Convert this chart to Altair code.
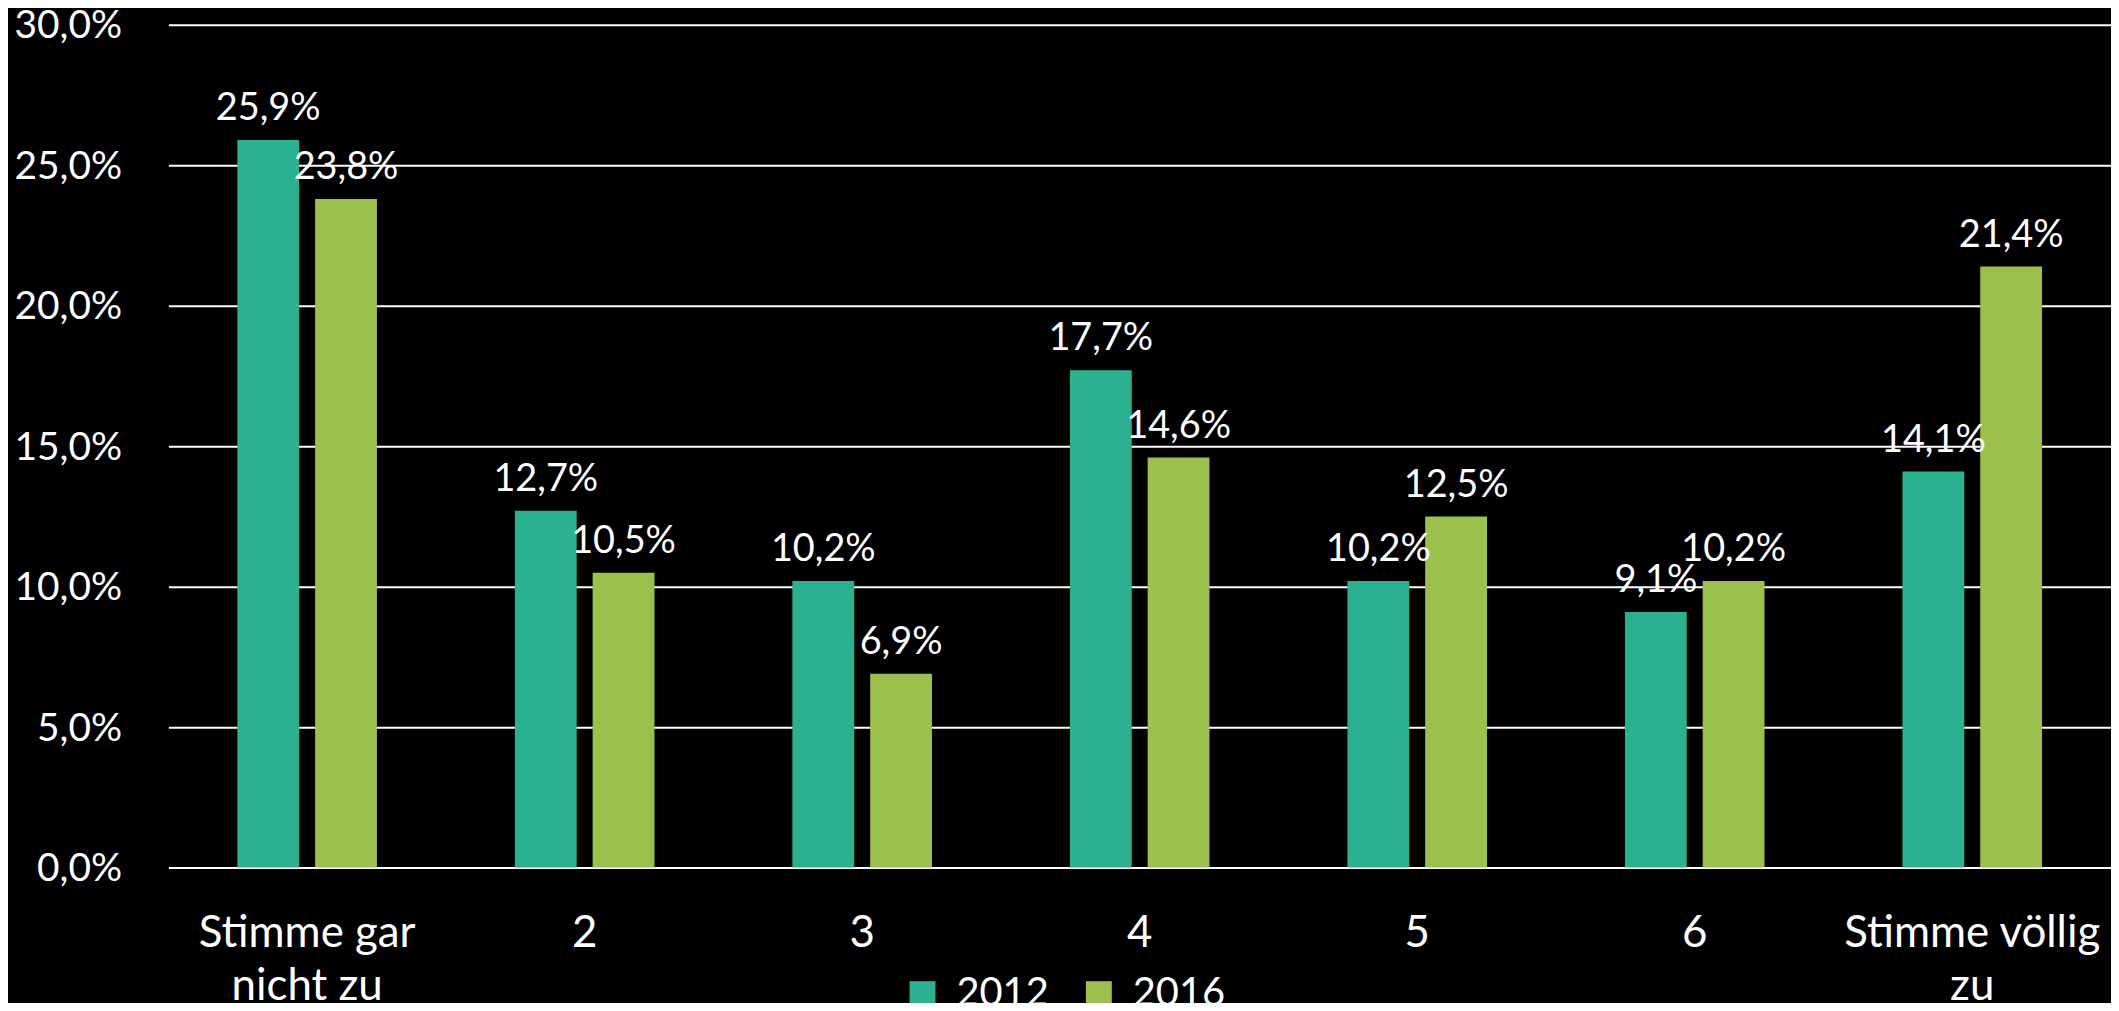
import altair as alt
import pandas as pd

categories = ["Stimme gar nicht zu", "2", "3", "4", "5", "6", "Stimme völlig zu"]
label_lines = {
    "Stimme gar nicht zu": ["Stimme gar", "nicht zu"],
    "Stimme völlig zu": ["Stimme völlig", "zu"],
}
years = ["2012", "2016"]
values_2012 = [25.9, 12.7, 10.2, 17.7, 10.2, 9.1, 14.1]
values_2016 = [23.8, 10.5, 6.9, 14.6, 12.5, 10.2, 21.4]
colors = ["#2BB18F", "#9BC04D"]
y_ticks = [0, 5, 10, 15, 20, 25, 30]

rows = []
for c, a, b in zip(categories, values_2012, values_2016):
    rows.append({"cat": c, "year": years[0], "v": a})
    rows.append({"cat": c, "year": years[1], "v": b})
df = pd.DataFrame(rows)

expr_parts = []
for k, lines in label_lines.items():
    arr = "[" + ", ".join("'" + s + "'" for s in lines) + "]"
    expr_parts.append(f"datum.label == '{k}' ? {arr}")
label_expr = " : ".join(expr_parts) + " : datum.label"

FONT = "Lato"

x_enc = alt.X(
    "cat:N",
    sort=categories,
    title=None,
    scale=alt.Scale(paddingInner=0.497, paddingOuter=0.2485),
    axis=alt.Axis(
        labelAngle=0,
        labelFontSize=44,
        labelColor="white",
        labelFont=FONT,
        labelExpr=label_expr,
        labelLineHeight=53,
        labelBaseline="top",
        labelPadding=44,
        labelLimit=0,
        ticks=False,
        domain=False,
        grid=False,
        labelOverlap=False,
        labelBound=False,
        labelFlush=False,
    ),
)
xoff_enc = alt.XOffset("year:N", sort=years, scale=alt.Scale(paddingInner=0.205))
y_enc = alt.Y(
    "v:Q",
    title=None,
    scale=alt.Scale(domain=[0, 30], nice=False),
    axis=alt.Axis(
        values=y_ticks,
        labelExpr="replace(format(datum.value, '.1f'), '.', ',') + '%'",
        labelFontSize=39,
        labelColor="white",
        labelFont=FONT,
        labelPadding=47,
        labelBaseline="alphabetic",
        labelOffset=13,
        labelLimit=0,
        ticks=False,
        domain=False,
        grid=True,
        gridColor="white",
        gridWidth=2,
        gridOpacity=1,
    ),
)
color_enc = alt.Color(
    "year:N",
    sort=years,
    scale=alt.Scale(domain=years, range=colors),
    legend=alt.Legend(
        title=None,
        orient="none",
        legendX=737,
        legendY=953,
        direction="horizontal",
        symbolType="square",
        symbolSize=676,
        symbolStrokeWidth=0,
        symbolOpacity=1,
        labelFontSize=40,
        labelColor="white",
        labelFont=FONT,
        labelOffset=14,
        columnPadding=30,
        padding=0,
    ),
)

base = alt.Chart(df)
bars = base.mark_bar(cornerRadius=0).encode(x=x_enc, xOffset=xoff_enc, y=y_enc, color=color_enc)
labels = base.transform_calculate(
    lbl="replace(format(datum.v, '.1f'), '.', ',') + '%'"
).mark_text(
    baseline="alphabetic", align="center", dy=-20, fontSize=38, font=FONT, color="white"
).encode(x=alt.X("cat:N", sort=categories), xOffset=alt.XOffset("year:N", sort=years), y="v:Q", text="lbl:N")

chart = (
    alt.layer(bars, labels)
    .properties(
        width=1950,
        height=846,
        background="black",
        autosize=alt.AutoSizeParams(type="none"),
        padding={"left": 161, "top": 15, "right": 0, "bottom": 134},
    )
    .configure_view(stroke=None)
)

chart.save("out.html", embed_options={"renderer": "svg", "actions": False})
